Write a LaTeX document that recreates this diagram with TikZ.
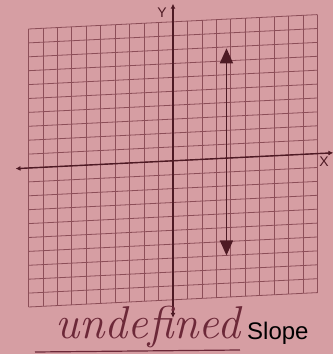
\documentclass[tikz,border=0pt]{standalone}
\usepackage{fontspec}
\setsansfont{Liberation Sans}
\usetikzlibrary{arrows.meta}
\definecolor{paper}{RGB}{214,158,163}
\definecolor{gridline}{RGB}{140,78,88}
\definecolor{ink}{RGB}{78,26,36}
\definecolor{pen}{RGB}{108,40,56}
\begin{document}
\begin{tikzpicture}[x=1pt,y=1pt,
  gridln/.style={gridline,line width=0.8pt},
  axis/.style={ink,line width=1.4pt,{Latex[length=5pt,width=5pt]}-{Latex[length=5pt,width=5pt]}},
  vline/.style={ink,line width=1.6pt,{Triangle[length=15pt,width=13pt]}-{Triangle[length=15pt,width=13pt]}},
  lbl/.style={font=\sffamily\fontsize{14}{14}\selectfont,text=ink,inner sep=0pt}]
\fill[paper] (0,0) rectangle (333,354);
\useasboundingbox (0,0) rectangle (333,354);
\begin{scope}[cm={14.45,0.72,0,13.9,(173,193.2)}]
\foreach \k in {-10,...,10}{
  \draw[gridln] (\k,-10) -- (\k,10);
  \draw[gridln] (-10,\k) -- (10,\k);
}
\coordinate (xl) at (-10.9,0); \coordinate (xr) at (11.1,0);
\coordinate (yb) at (0,-11.3); \coordinate (yt) at (0,11.3);
\coordinate (top) at (3.7,7.9); \coordinate (bot) at (3.7,-7.0);
\end{scope}
\draw[axis] (xl) -- (xr);
\draw[axis,line width=1.1pt] (yb) -- (yt);
\draw[vline] (bot) -- (top);
\node[lbl] (ylab) at (162,341) {Y};
\node[lbl] (xlab) at (324,192) {X};
\node[anchor=base west,inner sep=0pt,text=pen,font=\fontsize{46}{46}\selectfont\itshape] (hand) at (55,16) {undefined};
\node[anchor=base west,inner sep=0pt,font=\sffamily\fontsize{24}{24}\selectfont] (slope) at (247,14) {Slope};
\coordinate (ul) at (35,2); \coordinate (ur) at (240,4);
\draw[pen,line width=1.2pt] (ul) -- (ur);
\end{tikzpicture}
\end{document}
